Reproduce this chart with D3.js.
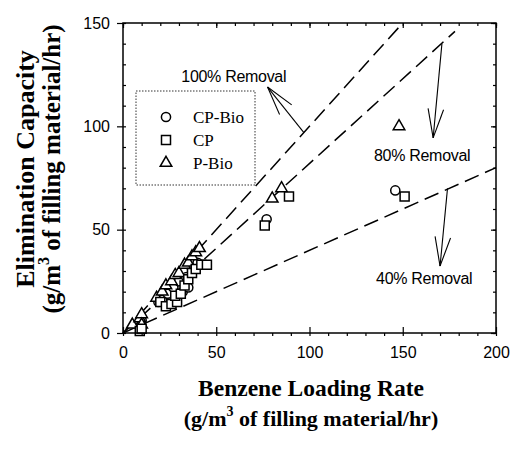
<!DOCTYPE html>
<html><head><meta charset="utf-8">
<script src="https://cdn.jsdelivr.net/npm/d3@7"></script>
<style>body{margin:0;background:#fff;} svg{display:block}</style>
</head><body><svg id="c" width="516" height="449"></svg>
<script>
// ---------- data ----------
const xTicks = [0, 50, 100, 150, 200];
const yTicks = [0, 50, 100, 150];
const seriesNames = ["CP-Bio", "CP", "P-Bio"];
const cpBio = [[9,3],[10,6],[19,15],[21,16],[24,19],[27,22],[30,25],[32,20],[35,22],[34,27],[37,31],[40,34],[77,55],[146,69]];
const cp = [[9,1],[10,2],[20,15],[23,13],[26,14],[29,15],[28,18],[31,19],[33,23],[35,26],[37,29],[39,31],[42,33],[45,33],[76,52],[89,66],[151,66]];
const pBio = [[5,4],[9,7],[10,9],[10,4],[18,17],[21,20],[23,23],[26,25],[28,28],[30,29],[33,33],[35,34],[37,37],[39,39],[41,41],[80,65],[85,70],[148,100]];
const removalLabels = ["100% Removal", "80% Removal", "40% Removal"];
const removalSlopes = [1.0, 0.82, 0.40];
const removalEndX = [150, 178, 200];
const arrowFrom = [[97, 97], [171, 140], [174, 70]];
const arrowTip = [[77.5, 119], [166.3, 94.4], [170, 32.4]];
const labelAt = [[59.4, 124.2], [160.4, 86.1], [161.5, 26.6]];

// ---------- chart ----------
const svg = d3.select("#c");
const L = 123, R = 496, T = 23, B = 333;
const x = d3.scaleLinear().domain([0, 200]).range([L, R]);
const y = d3.scaleLinear().domain([0, 150]).range([B, T]);
const sans = "'Liberation Sans', Arial, sans-serif";
const serif = "'Liberation Serif', 'Times New Roman', serif";

// removal lines
const lineGen = d3.line().x(d => x(d[0])).y(d => y(d[1]));
removalSlopes.forEach((s, i) => {
  svg.append("path")
    .attr("d", lineGen([[0, 0], [removalEndX[i], removalEndX[i] * s]]))
    .attr("fill", "none").attr("stroke", "#000").attr("stroke-width", 1.5)
    .attr("stroke-dasharray", "15,7");
});

// arrows
removalLabels.forEach((lab, i) => {
  const x0 = x(arrowFrom[i][0]), y0 = y(arrowFrom[i][1]);
  const x1 = x(arrowTip[i][0]), y1 = y(arrowTip[i][1]);
  const g = svg.append("g").attr("stroke", "#000").attr("stroke-width", 1.1).attr("fill", "none");
  g.append("line").attr("x1", x0).attr("y1", y0).attr("x2", x1).attr("y2", y1);
  const ang = Math.atan2(y0 - y1, x0 - x1);
  const len = 30, spread = 15 * Math.PI / 180;
  [-1, 1].forEach(sg => {
    g.append("line").attr("x1", x1).attr("y1", y1)
      .attr("x2", x1 + len * Math.cos(ang + sg * spread))
      .attr("y2", y1 + len * Math.sin(ang + sg * spread));
  });
  svg.append("text").attr("x", x(labelAt[i][0])).attr("y", y(labelAt[i][1]))
    .attr("dy", "0.35em").attr("text-anchor", "middle")
    .attr("font-family", sans).attr("font-size", 16).attr("letter-spacing", "-0.3")
    .text(lab);
});

// markers
const shapes = [d3.symbolCircle, d3.symbolSquare, d3.symbolTriangle];
const sizes = [66, 81, 58];
const seriesData = [cpBio, pBio, cp];
const seriesShape = [0, 2, 1];
seriesData.forEach((data, k) => {
  const si = seriesShape[k];
  svg.append("g").selectAll("path").data(data).join("path")
    .attr("transform", d => `translate(${x(d[0])},${y(d[1])})`)
    .attr("d", d3.symbol().type(shapes[si]).size(sizes[si]))
    .attr("fill", "#fff").attr("stroke", "#000").attr("stroke-width", 1.5);
});

// frame
svg.append("rect").attr("x", L).attr("y", T).attr("width", R - L).attr("height", B - T)
  .attr("fill", "none").attr("stroke", "#000").attr("stroke-width", 1.5);

// axes
const minor = d3.range(0, 201, 10);
const minorY = d3.range(0, 151, 10);
function styleAxis(g) {
  g.select(".domain").remove();
  g.selectAll("line").attr("stroke", "#000").attr("stroke-width", 1.2);
  g.selectAll("text").attr("font-family", sans).attr("font-size", 16).attr("fill", "#000");
}
svg.append("g").attr("transform", `translate(0,${B})`)
  .call(d3.axisBottom(x).tickValues(xTicks).tickSize(-6).tickPadding(14)).call(styleAxis);
svg.append("g").attr("transform", `translate(0,${B})`)
  .call(d3.axisBottom(x).tickValues(minor).tickSize(3).tickFormat("")).call(styleAxis);
svg.append("g").attr("transform", `translate(${L},0)`)
  .call(d3.axisLeft(y).tickValues(yTicks).tickSize(6).tickPadding(7)).call(styleAxis);
svg.append("g").attr("transform", `translate(${L},0)`)
  .call(d3.axisLeft(y).tickValues(minorY).tickSize(-3).tickFormat("")).call(styleAxis);
svg.append("g").attr("transform", `translate(0,${T})`)
  .call(d3.axisTop(x).tickValues(minor).tickSize(-3).tickFormat("")).call(styleAxis);
svg.append("g").attr("transform", `translate(0,${T})`)
  .call(d3.axisTop(x).tickValues(xTicks).tickSize(-5).tickFormat("")).call(styleAxis);
svg.append("g").attr("transform", `translate(${R},0)`)
  .call(d3.axisRight(y).tickValues(minorY).tickSize(-3).tickFormat("")).call(styleAxis);
svg.append("g").attr("transform", `translate(${R},0)`)
  .call(d3.axisRight(y).tickValues(yTicks).tickSize(-5).tickFormat("")).call(styleAxis);

// legend
svg.append("rect").attr("x", 136).attr("y", 91).attr("width", 119).attr("height", 94)
  .attr("fill", "none").attr("stroke", "#333").attr("stroke-width", 1).attr("stroke-dasharray", "1.5,1.5");
seriesNames.forEach((n, i) => {
  const cy = 117 + i * 23;
  svg.append("path").attr("transform", `translate(166,${cy})`)
    .attr("d", d3.symbol().type(shapes[i]).size(sizes[i]))
    .attr("fill", "#fff").attr("stroke", "#000").attr("stroke-width", 1.5);
  svg.append("text").attr("x", 193).attr("y", cy).attr("dy", "0.35em")
    .attr("font-family", serif).attr("font-size", 17).text(n);
});

// axis titles
const xt = svg.append("text").attr("text-anchor", "middle")
  .attr("font-family", serif).attr("font-weight", "bold").attr("font-size", 23.5);
xt.append("tspan").attr("x", 311).attr("y", 396).text("Benzene Loading Rate");
const xt2 = svg.append("text").attr("text-anchor", "middle")
  .attr("font-family", serif).attr("font-weight", "bold").attr("font-size", 22).attr("x", 311).attr("y", 426);
xt2.append("tspan").text("(g/m");
xt2.append("tspan").attr("font-size", 14).attr("dy", -10).text("3");
xt2.append("tspan").attr("dy", 10).text(" of filling material/hr)");

const yt = svg.append("g").attr("transform", "translate(34,169) rotate(-90)");
yt.append("text").attr("text-anchor", "middle").attr("x", 0).attr("y", 0)
  .attr("font-family", serif).attr("font-weight", "bold").attr("font-size", 26)
  .text("Elimination Capacity");
const yt2 = yt.append("text").attr("text-anchor", "middle").attr("x", 0).attr("y", 26)
  .attr("font-family", serif).attr("font-weight", "bold").attr("font-size", 25);
yt2.append("tspan").text("(g/m");
yt2.append("tspan").attr("font-size", 16).attr("dy", -11).text("3");
yt2.append("tspan").attr("dy", 11).text(" of filling material/hr)");
</script>
</body></html>
